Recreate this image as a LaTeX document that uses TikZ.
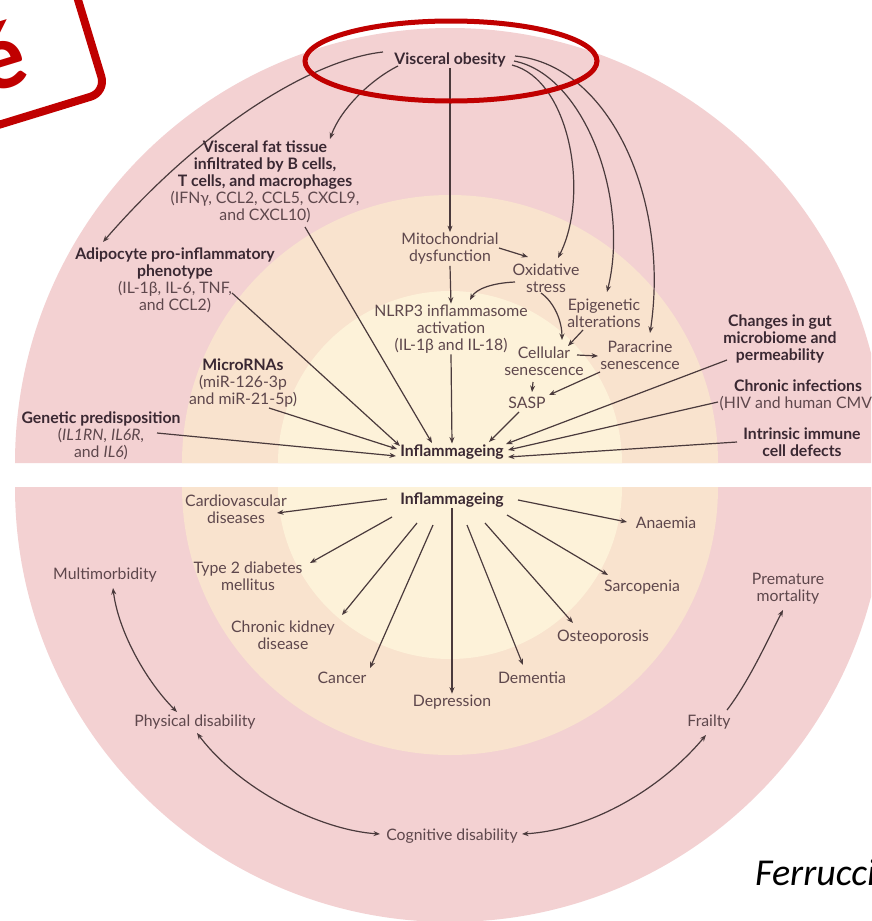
\documentclass[tikz,border=0pt]{standalone}
\usepackage{fontspec}
\setmainfont{Lato}
\newfontfamily\carl{Carlito}
\usetikzlibrary{arrows.meta,calc}
\definecolor{pinkc}{HTML}{F3D1D2}
\definecolor{peachc}{HTML}{F9E3CE}
\definecolor{yelc}{HTML}{FDF2D9}
\definecolor{arrc}{HTML}{4A3A3C}
\definecolor{boldc}{HTML}{3A2832}
\definecolor{regc}{HTML}{5E474C}
\definecolor{redc}{HTML}{C00000}
\newcommand{\hdl}[1]{{\bfseries\color{boldc}#1}}
\begin{document}
\begin{tikzpicture}[x=1pt,y=-1pt,
  lbl/.style={font=\fontsize{15.8}{17}\selectfont, text=regc, align=center, inner sep=1pt},
  blbl/.style={lbl, font=\fontsize{15.8}{17}\selectfont\bfseries, text=boldc},
  arr/.style={draw=arrc, line width=1.2pt, -{Stealth[length=6.5pt,width=5pt]}},
  darr/.style={draw=arrc, line width=1.2pt, {Stealth[length=6.5pt,width=5pt]}-{Stealth[length=6.5pt,width=5pt]}}]
\useasboundingbox (0,0) rectangle (871,921);
\clip (0,0) rectangle (871,921);
\fill[white] (0,0) rectangle (871,921);
% top half
\fill[pinkc] (15,463) arc[start angle=180, end angle=360, radius=435] -- cycle;
\fill[peachc] (182,463) arc[start angle=180, end angle=360, radius=268] -- cycle;
\fill[yelc] (278,463) arc[start angle=180, end angle=360, radius=172] -- cycle;
% bottom half
\fill[pinkc] (15,487) arc[start angle=180, end angle=0, radius=435] -- cycle;
\fill[peachc] (182,487) arc[start angle=180, end angle=0, radius=268] -- cycle;
\fill[yelc] (278,487) arc[start angle=180, end angle=0, radius=172] -- cycle;

% corner box
\draw[redc, line width=8pt, rounded corners=16pt] (-239,-11) -- (-181,180) -- (106,92) -- (48,-99) -- cycle;
\node[anchor=base east, rotate=17, text=redc, font=\carl\bfseries\fontsize{95}{95}\selectfont, inner sep=0pt] (eacc) at (32,80) {é};

% top nodes
\node[blbl] (vo) at (450,60) {Visceral obesity};
\node[lbl] (vft) at (265,182) {\hdl{Visceral fat tissue}\\\hdl{infiltrated by B cells,}\\\hdl{T cells, and macrophages}\\(IFNγ, CCL2, CCL5, CXCL9,\\and CXCL10)};
\node[lbl] (adi) at (175,280) {\hdl{Adipocyte pro-inflammatory}\\\hdl{phenotype}\\(IL-1β, IL-6, TNF,\\and CCL2)};
\node[lbl] (mir) at (243,383) {\hdl{MicroRNAs}\\(miR-126-3p\\and miR-21-5p)};
\node[lbl] (gen) at (101,436) {\hdl{Genetic predisposition}\\(\textit{IL1RN}, \textit{IL6R},\\and \textit{IL6})};
\node[blbl] (inflT) at (452,452) {Inflammageing};
\node[lbl] (mito) at (450,249) {Mitochondrial\\dysfunction};
\node[lbl] (oxi) at (546,278) {Oxidative\\stress};
\node[lbl] (epi) at (604,313) {Epigenetic\\alterations};
\node[lbl] (nlrp) at (451,329) {NLRP3 inflammasome\\activation\\(IL-1β and IL-18)};
\node[lbl] (cell) at (544,361) {Cellular\\senescence};
\node[lbl] (para) at (640,355) {Paracrine\\senescence};
\node[lbl] (sasp) at (527,403) {SASP};
\node[blbl] (gut) at (780,339) {Changes in gut\\microbiome and\\permeability};
\node[lbl] (chr) at (798,395) {\hdl{Chronic infections}\\(HIV and human CMV)};
\node[blbl] (intr) at (802,442) {Intrinsic immune\\cell defects};

% bottom nodes
\node[blbl] (inflB) at (452,500) {Inflammageing};
\node[lbl] (cvd) at (236,509) {Cardiovascular\\diseases};
\node[lbl] (t2d) at (248,576) {Type 2 diabetes\\mellitus};
\node[lbl] (ckd) at (283,635) {Chronic kidney\\disease};
\node[lbl] (canc) at (342,678) {Cancer};
\node[lbl] (dep) at (452,702) {Depression};
\node[lbl] (dem) at (532,678) {Dementia};
\node[lbl] (osteo) at (603,637) {Osteoporosis};
\node[lbl] (sarc) at (642,587) {Sarcopenia};
\node[lbl] (anae) at (666,523) {Anaemia};
\node[lbl] (multi) at (105,575) {Multimorbidity};
\node[lbl] (phys) at (195,722) {Physical disability};
\node[lbl] (cog) at (452,836) {Cognitive disability};
\node[lbl] (frail) at (709,722) {Frailty};
\node[lbl] (prem) at (788,589) {Premature\\mortality};
\node[anchor=base west, text=black, font=\carl\itshape\fontsize{38}{38}\selectfont, inner sep=0pt] (ferr) at (755,885) {Ferrucci};

% top arrows
\draw[arr] ($(vo)+(-52,6)$) .. controls (370,80) and (340,110) .. ($(vft)+(65,-43)$);
\draw[arr] ($(vo)+(-67,-8)$) .. controls (310,60) and (200,130) .. ($(adi)+(-72,-38)$);
\draw[arr] (vo.south) -- (mito.north);
\draw[arr] ($(vo)+(62,5)$) .. controls (570,80) and (590,195) .. ($(oxi)+(12,-20)$);
\draw[arr] ($(vo)+(64,1)$) .. controls (585,75) and (630,200) .. ($(epi)+(3,-21)$);
\draw[arr] ($(vo)+(65,-4)$) .. controls (610,65) and (670,200) .. ($(para)+(10,-22)$);
\draw[arr] ($(vft)+(40,45)$) -- ($(inflT)+(-20,-9)$);
\draw[arr] ($(adi)+(57,13)$) -- ($(inflT)+(-52,-6)$);
\draw[arr] ($(mir)+(26,25)$) -- ($(inflT)+(-55,-3)$);
\draw[arr] ($(gen)+(56,-3)$) -- ($(inflT)+(-56,4)$);
\draw[arr] (nlrp.south) -- (inflT.north);
\draw[arr] ($(sasp)+(-8,9)$) -- ($(inflT)+(37,-10)$);
\draw[arr] ($(gut)+(-53,21)$) -- ($(inflT)+(54,-8)$);
\draw[arr] ($(chr)+(-80,7)$) -- ($(inflT)+(56,-2)$);
\draw[arr] ($(intr)+(-65,0)$) -- ($(inflT)+(56,5)$);
\draw[arr] ($(mito)+(49,-1)$) -- ($(oxi)+(-18,-21)$);
\draw[arr] (mito.south) -- (nlrp.north);
\draw[arr] ($(oxi)+(-31,4)$) .. controls (492,283) and (476,289) .. ($(nlrp)+(19,-29)$);
\draw[arr] ($(oxi)+(-5,15)$) .. controls (555,303) and (562,322) .. ($(cell)+(18,-21)$);
\draw[arr] ($(epi)+(-21,17)$) -- ($(cell)+(24,-15)$);
\draw[arr] ($(cell)+(33,-6)$) -- ($(para)+(-42,1)$);
\draw[arr] ($(cell)+(-11,21)$) -- ($(sasp)+(5,-11)$);
\draw[arr] ($(para)+(-40,17)$) -- ($(sasp)+(22,-8)$);

% bottom arrows
\draw[arr] ($(inflB)+(-65,-1)$) -- ($(cvd)+(41,4)$);
\draw[arr] ($(inflB)+(-60,17)$) -- ($(t2d)+(62,-13)$);
\draw[arr] ($(inflB)+(-35,23)$) -- ($(ckd)+(59,-20)$);
\draw[arr] ($(inflB)+(-19,25)$) -- ($(canc)+(28,-10)$);
\draw[arr] (inflB.south) -- (dep.north);
\draw[arr] ($(inflB)+(15,25)$) -- ($(dem)+(-9,-13)$);
\draw[arr] ($(inflB)+(33,23)$) -- ($(osteo)+(-30,-14)$);
\draw[arr] ($(inflB)+(55,15)$) -- ($(sarc)+(-34,-12)$);
\draw[arr] ($(inflB)+(66,0)$) -- ($(anae)+(-39,-1)$);
\draw[darr] ($(multi)+(8,13)$) .. controls (118,630) and (145,680) .. ($(phys)+(-18,-10)$);
\draw[darr] ($(phys)+(2,11)$) .. controls (240,790) and (320,830) .. ($(cog)+(-72,-2)$);
\draw[darr] ($(cog)+(70,-2)$) .. controls (590,830) and (660,790) .. ($(frail)+(-3,13)$);
\draw[arr] ($(frail)+(18,-12)$) .. controls (750,680) and (770,635) .. ($(prem)+(-5,21)$);

% highlight ellipse
\draw[redc, line width=5pt] (451,61) ellipse [x radius=146, y radius=40];
\end{tikzpicture}
\end{document}
